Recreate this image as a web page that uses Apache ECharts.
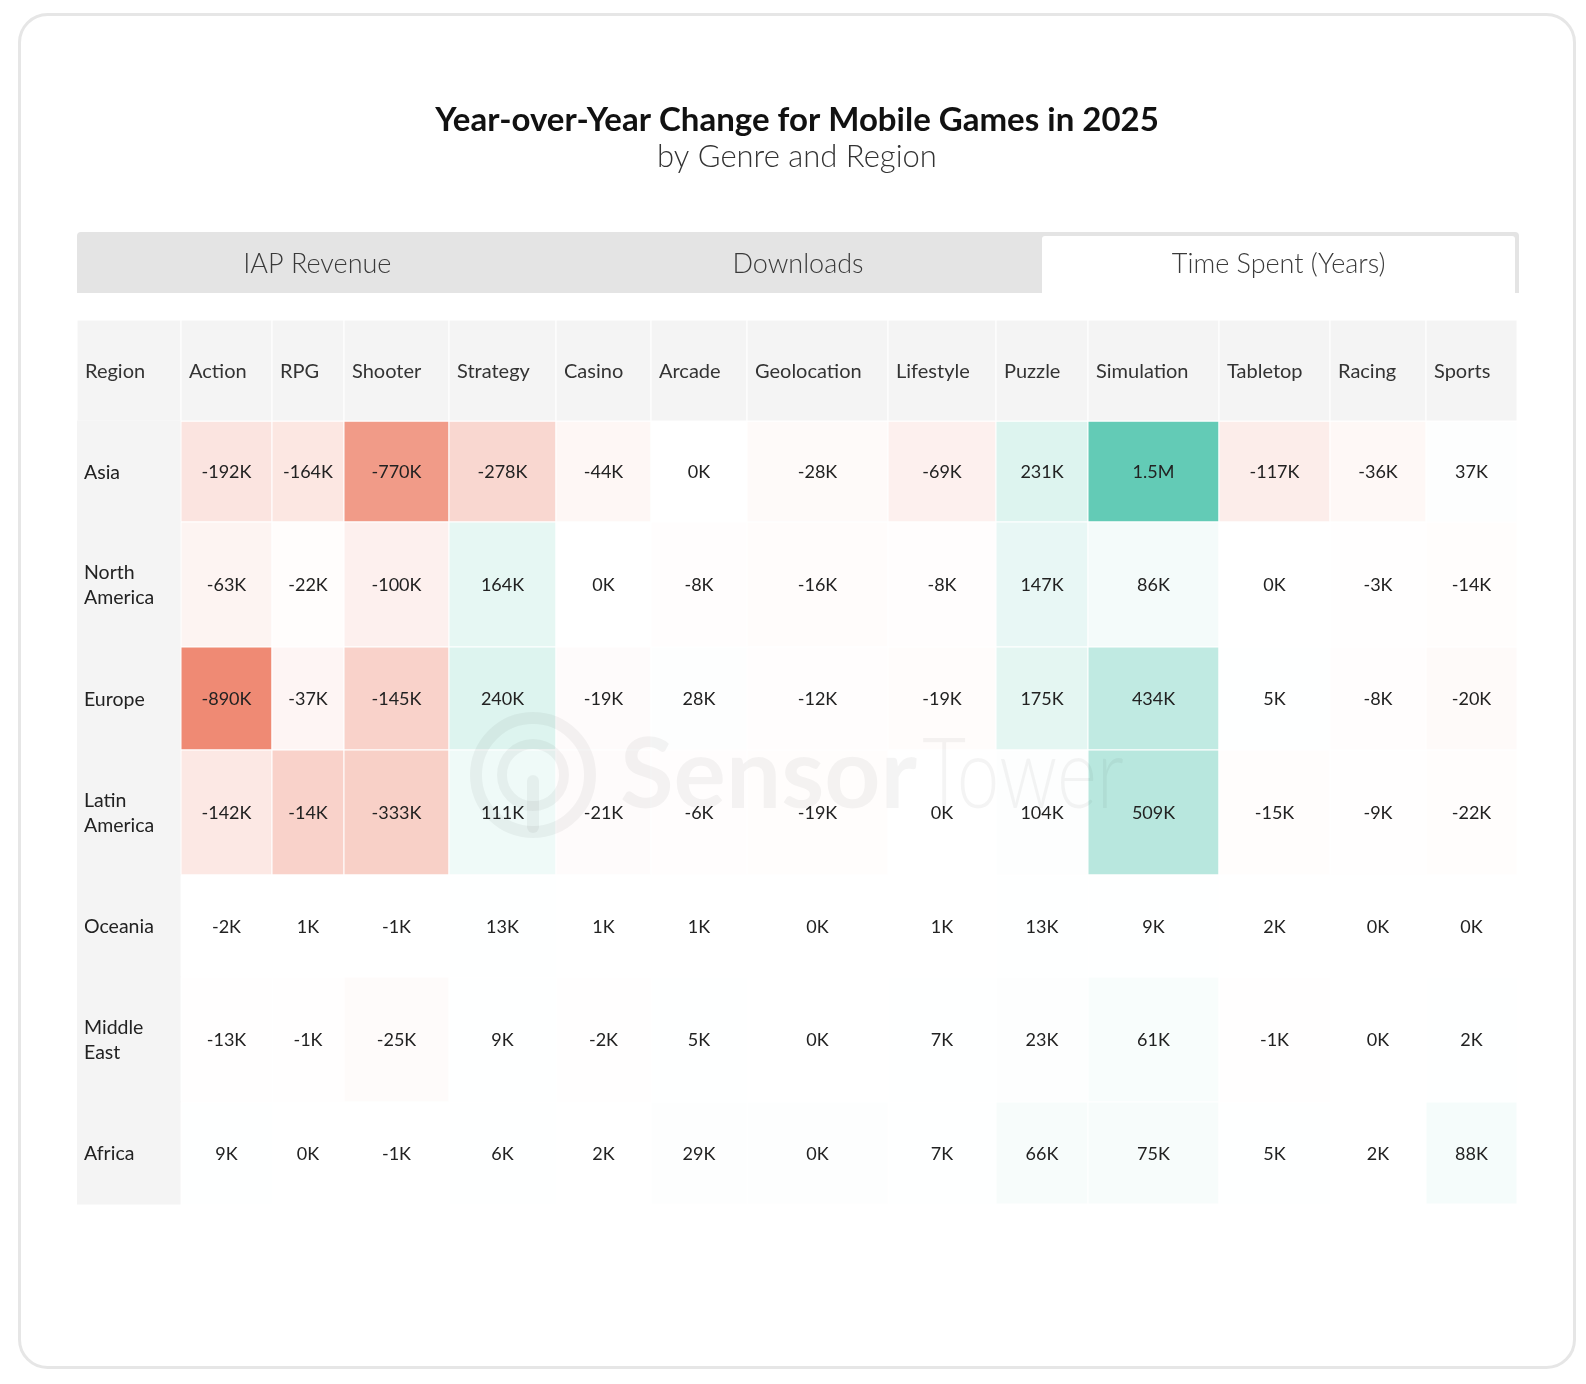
<!DOCTYPE html>
<html><head><meta charset="utf-8">
<script src="https://cdn.jsdelivr.net/npm/echarts@6/dist/echarts.min.js"></script>
<style>html,body{margin:0;padding:0;background:#fff;}#chart{width:1586px;height:1384px;}</style>
</head><body><div id="chart"></div>
<script>
// ---------- DATA ----------
const titleText = 'Year-over-Year Change for Mobile Games in 2025';
const subtitleText = 'by Genre and Region';
const tabs = ['IAP Revenue', 'Downloads', 'Time Spent (Years)'];
const activeTab = 2;
const regions = ['Asia', 'North America', 'Europe', 'Latin America', 'Oceania', 'Middle East', 'Africa'];
const genres = ['Action', 'RPG', 'Shooter', 'Strategy', 'Casino', 'Arcade', 'Geolocation', 'Lifestyle', 'Puzzle', 'Simulation', 'Tabletop', 'Racing', 'Sports'];

// YoY change in time spent, thousands of years (labels)
const asiaK         = [-192, -164, -770, -278, -44, 0, -28, -69, 231, 1500, -117, -36, 37];
const northAmericaK = [-63, -22, -100, 164, 0, -8, -16, -8, 147, 86, 0, -3, -14];
const europeK       = [-890, -37, -145, 240, -19, 28, -12, -19, 175, 434, 5, -8, -20];
const latinAmericaK = [-142, -14, -333, 111, -21, -6, -19, 0, 104, 509, -15, -9, -22];
const oceaniaK      = [-2, 1, -1, 13, 1, 1, 0, 1, 13, 9, 2, 0, 0];
const middleEastK   = [-13, -1, -25, 9, -2, 5, 0, 7, 23, 61, -1, 0, 2];
const africaK       = [9, 0, -1, 6, 2, 29, 0, 7, 66, 75, 5, 2, 88];

// relative change driving the cell shading
const asiaShade         = [-0.22, -0.20, -0.83, -0.33, -0.07, 0, -0.04, -0.12, 0.21, 0.97, -0.15, -0.06, 0.01];
const northAmericaShade = [-0.09, -0.02, -0.12, 0.155, 0, -0.015, -0.025, -0.015, 0.14, 0.07, 0, -0.005, -0.02];
const europeShade       = [-0.97, -0.08, -0.37, 0.21, -0.03, 0.01, -0.015, -0.025, 0.17, 0.39, 0.005, -0.015, -0.04];
const latinAmericaShade = [-0.19, -0.37, -0.39, 0.1, -0.03, -0.015, -0.02, 0, 0.015, 0.44, -0.02, -0.01, -0.02];
const oceaniaShade      = [0, 0, 0, 0.005, 0, 0, 0, 0, 0.005, 0.005, 0, 0, 0];
const middleEastShade   = [-0.01, -0.005, -0.035, 0.005, -0.01, 0.005, 0, 0.005, 0.015, 0.045, -0.005, 0, 0.005];
const africaShade       = [0.005, 0, 0, 0.005, 0, 0.015, 0.01, 0.005, 0.05, 0.05, 0.005, 0, 0.06];

const valueRows = [asiaK, northAmericaK, europeK, latinAmericaK, oceaniaK, middleEastK, africaK];
const shadeRows = [asiaShade, northAmericaShade, europeShade, latinAmericaShade, oceaniaShade, middleEastShade, africaShade];

// ---------- LAYOUT ----------
const colWidths = [104, 91, 72, 105, 107, 95, 96, 141, 108, 92, 131, 111, 96, 91]; // Region + genres
const rowHeights = [101, 101, 125, 103, 125, 102, 125, 102]; // header + regions
const colEdges = [0]; colWidths.forEach(w => colEdges.push(colEdges[colEdges.length - 1] + w));
const rowEdges = [0]; rowHeights.forEach(h => rowEdges.push(rowEdges[rowEdges.length - 1] + h));
const FONT = 'Lato, "Noto Sans", sans-serif';
const WM = 'rgba(0,0,0,0.042)';

function fmt(v) {
  if (Math.abs(v) >= 1000) return (v / 1000).toFixed(1).replace(/\.0$/, '') + 'M';
  return v + 'K';
}
function cellRect(api, c, r) {
  const p0 = api.coord([colEdges[c], rowEdges[r]]);
  const p1 = api.coord([colEdges[c + 1], rowEdges[r + 1]]);
  return { x: p0[0], y: p0[1], width: p1[0] - p0[0], height: p1[1] - p0[1] };
}

const cellData = [];
valueRows.forEach((row, ri) => row.forEach((v, gi) => {
  cellData.push([gi + 1, ri + 1, shadeRows[ri][gi], v]);
}));
const headerData = ['Region'].concat(genres).map((g, i) => [i, 0]);
const regionData = regions.map((r, i) => [0, i + 1]);

const chart = echarts.init(document.getElementById('chart'), null, { renderer: 'canvas' });
const option = {
  backgroundColor: '#ffffff',
  animation: false,
  grid: { left: 77, top: 320, width: colEdges[colEdges.length - 1], height: rowEdges[rowEdges.length - 1] },
  xAxis: { type: 'value', min: 0, max: colEdges[colEdges.length - 1], show: false },
  yAxis: { type: 'value', min: 0, max: rowEdges[rowEdges.length - 1], inverse: true, show: false },
  visualMap: {
    show: false, type: 'continuous', min: -1, max: 1, dimension: 2, seriesIndex: 2,
    inRange: { color: ['#ee8670', '#ffffff', '#5ec9b4'] }
  },
  graphic: [
    { type: 'rect', z: -10, shape: { x: 19.5, y: 14.5, width: 1555, height: 1353, r: 28 },
      style: { fill: '#ffffff', stroke: '#e6e6e6', lineWidth: 3 } },
    { type: 'text', z: 10, style: { text: titleText, x: 797, y: 120, align: 'center', verticalAlign: 'middle',
      font: 'bold 33px ' + FONT, fill: '#111' } },
    { type: 'text', z: 10, style: { text: subtitleText, x: 797, y: 157, align: 'center', verticalAlign: 'middle',
      font: '300 31px ' + FONT, fill: '#333' } },
    { type: 'rect', z: 1, shape: { x: 77, y: 232, width: 1442, height: 61, r: [4, 4, 0, 0] }, style: { fill: '#e4e4e4' } },
    { type: 'rect', z: 2, shape: { x: 1042, y: 236, width: 473, height: 57, r: [3, 3, 0, 0] }, style: { fill: '#ffffff' } },
  ].concat(tabs.map((t, i) => ({
    type: 'text', z: 10,
    style: { text: t, x: 77 + 1442 / 6 * (2 * i + 1), y: 264, align: 'center', verticalAlign: 'middle',
      font: '300 27px ' + FONT, fill: '#3a3a3a' }
  }))).concat([
    { type: 'circle', z: 50, shape: { cx: 533, cy: 775, r: 57 }, style: { fill: 'none', stroke: WM, lineWidth: 12 } },
    { type: 'circle', z: 50, shape: { cx: 533, cy: 775, r: 31 }, style: { fill: 'none', stroke: WM, lineWidth: 10 } },
    { type: 'rect', z: 50, shape: { x: 527, y: 775, width: 12, height: 58, r: 6 }, style: { fill: WM } },
    { type: 'text', z: 50, style: { text: 'Sensor', x: 620, y: 776, align: 'left', verticalAlign: 'middle',
      font: 'bold 98px ' + FONT, fill: WM } },
    { type: 'text', z: 50, x: 922, y: 776, scaleX: 0.78,
      style: { text: 'Tower', x: 0, y: 0, align: 'left', verticalAlign: 'middle',
      font: '300 98px ' + FONT, fill: WM } }
  ]),
  series: [
    {
      type: 'custom', name: 'header', coordinateSystem: 'cartesian2d', data: headerData, z: 3,
      renderItem: (params, api) => {
        const c = api.value(0);
        const rect = cellRect(api, c, 0);
        const label = c === 0 ? 'Region' : genres[c - 1];
        return { type: 'group', children: [
          { type: 'rect', shape: rect, style: { fill: '#f4f4f4', stroke: '#ffffff', lineWidth: 1 } },
          { type: 'text', style: { text: label, x: rect.x + 8, y: rect.y + rect.height / 2 + 1, align: 'left', verticalAlign: 'middle',
            font: '20px ' + FONT, fill: '#333' } }
        ] };
      }
    },
    {
      type: 'custom', name: 'region', coordinateSystem: 'cartesian2d', data: regionData, z: 3,
      renderItem: (params, api) => {
        const r = api.value(1);
        const rect = cellRect(api, 0, r);
        const label = regions[r - 1].replace(' ', '\n');
        return { type: 'group', children: [
          { type: 'rect', shape: { x: rect.x, y: rect.y - 0.5, width: rect.width - 0.5, height: rect.height + 1 }, style: { fill: '#f4f4f4' } },
          { type: 'text', style: { text: label, x: rect.x + 7, y: rect.y + rect.height / 2 + 1, align: 'left', verticalAlign: 'middle',
            font: '19.5px ' + FONT, fill: '#222', lineHeight: 25 } }
        ] };
      }
    },
    {
      type: 'custom', name: 'cells', coordinateSystem: 'cartesian2d', data: cellData, z: 2,
      encode: { x: 0, y: 1 },
      renderItem: (params, api) => {
        const c = api.value(0), r = api.value(1);
        const rect = cellRect(api, c, r);
        return { type: 'group', children: [
          { type: 'rect', shape: rect, style: { fill: api.visual('color'), stroke: '#ffffff', lineWidth: 1 } },
          { type: 'text', style: { text: fmt(api.value(3)), x: rect.x + rect.width / 2, y: rect.y + rect.height / 2 + 1,
            align: 'center', verticalAlign: 'middle', font: '18px ' + FONT, fill: '#222' } }
        ] };
      }
    }
  ]
};
chart.setOption(option);
</script>
</body></html>
